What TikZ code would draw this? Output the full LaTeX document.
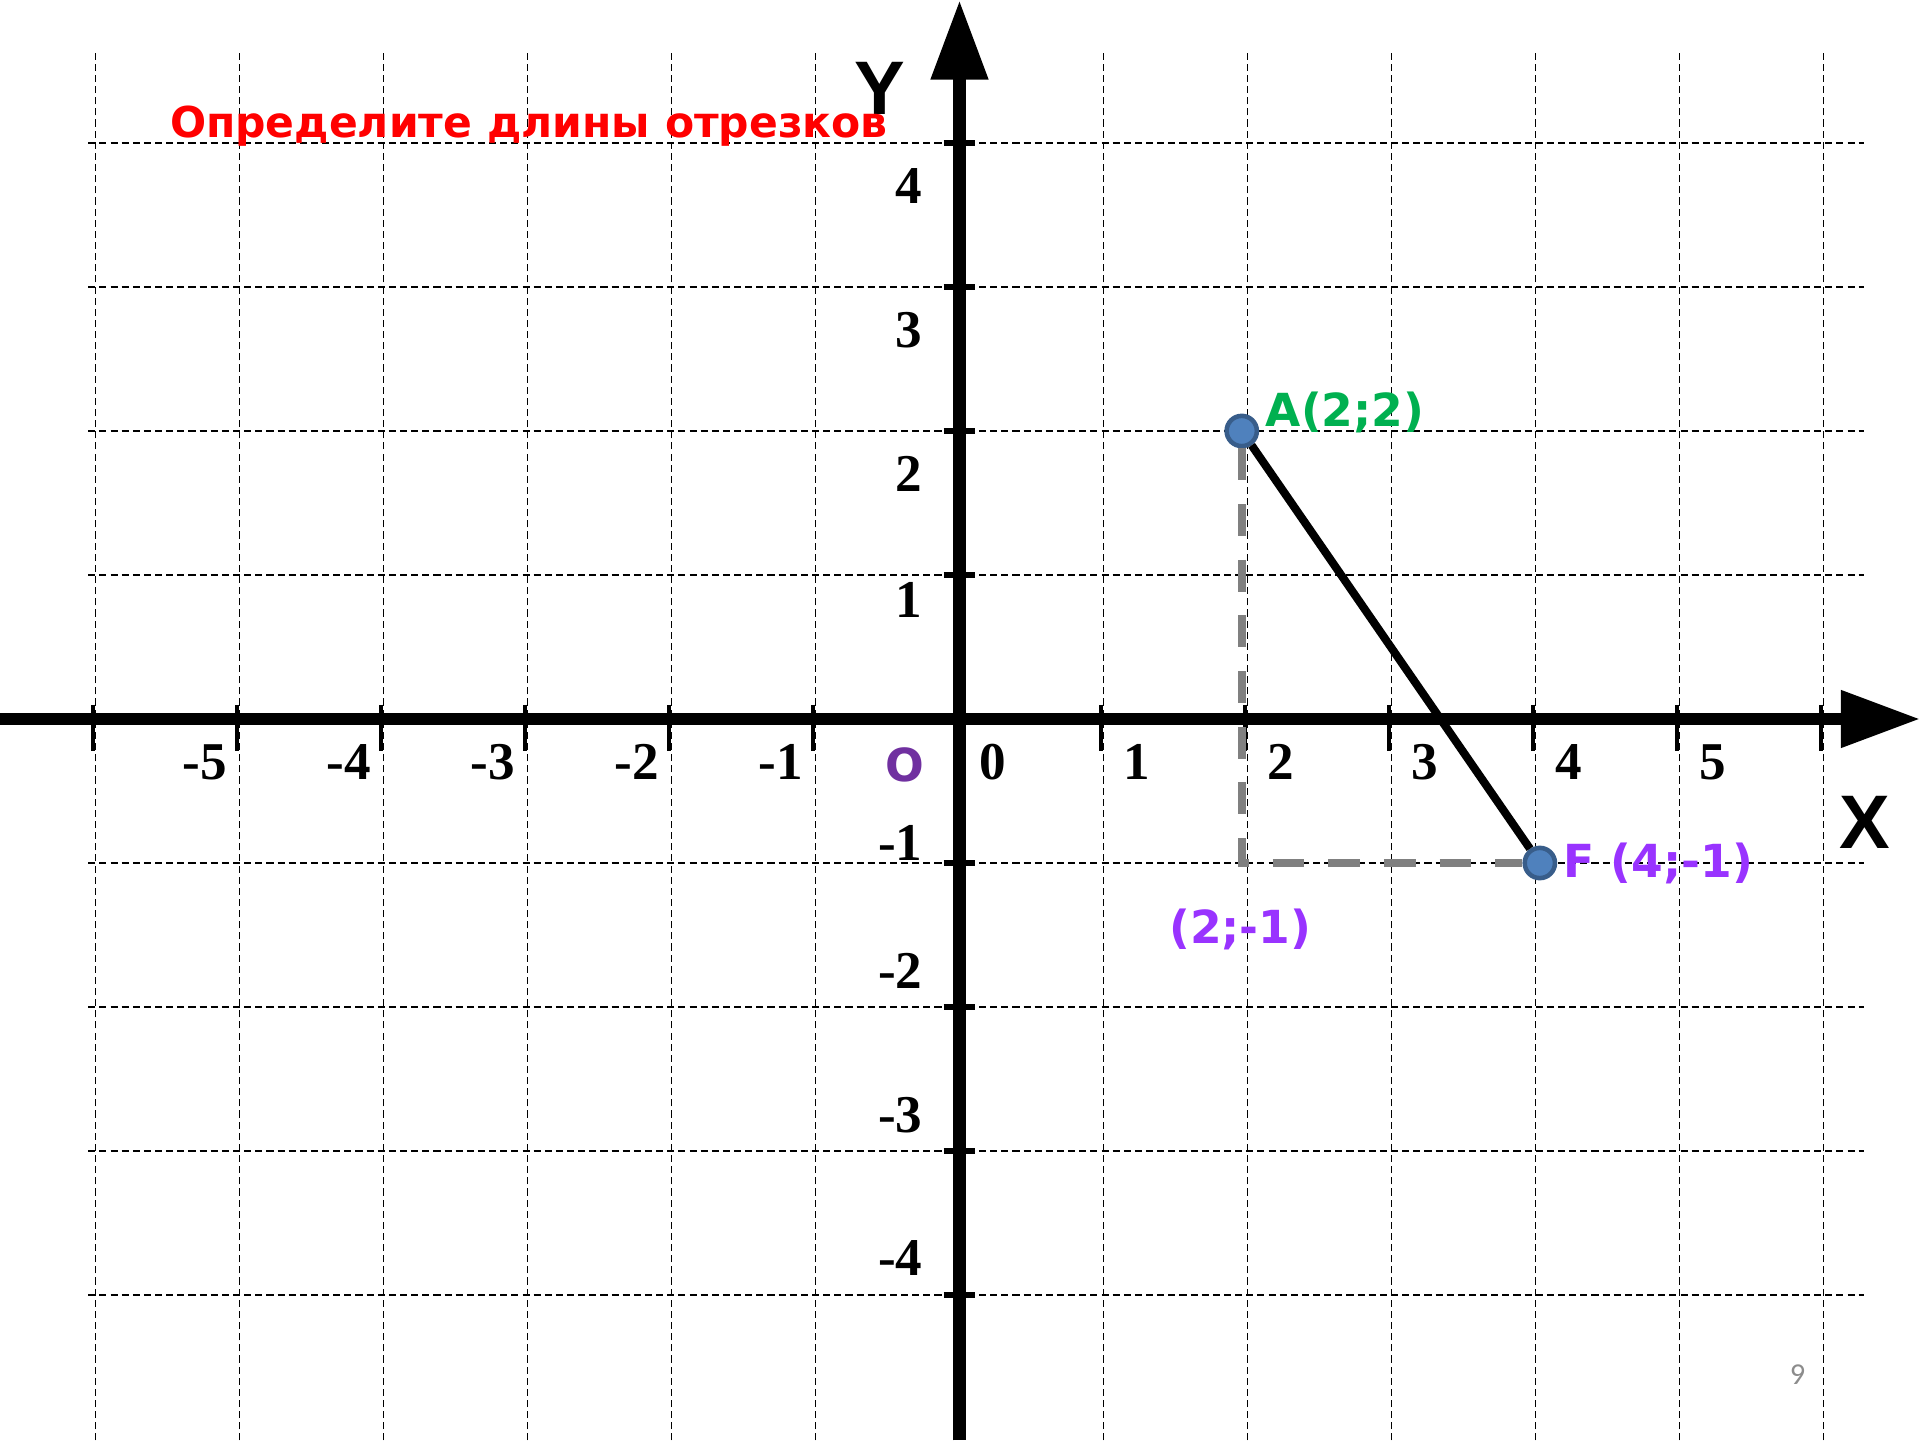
\documentclass[tikz,border=0pt]{standalone}
\usepackage{fontspec}
\setmainfont{Liberation Serif}
\newfontfamily\verdfont{DejaVu Sans}
\newfontfamily\arialfont{Liberation Sans}
\newfontfamily\calfont{Carlito}
\usetikzlibrary{arrows.meta}
\definecolor{ptred}{HTML}{FF0000}
\definecolor{ptgreen}{HTML}{00B050}
\definecolor{ptpurple}{HTML}{9933FF}
\definecolor{ptviolet}{HTML}{7030A0}
\definecolor{ptblue}{HTML}{4F81BD}
\definecolor{ptblueline}{HTML}{385D8A}
\definecolor{ptgray}{HTML}{808080}
\definecolor{ptpage}{HTML}{8C8C8C}

\begin{document}
\begin{tikzpicture}[
  gridline/.style={black, line width=0.35pt, dash pattern=on 1.4pt off 0.8pt},
  axis/.style={line width=2.4pt, -{Triangle[length=0.55cm, width=0.38cm]}},
  xtick/.style={line width=0.8pt},
  ytick/.style={line width=1.3pt},
  numlbl/.style={font=\fontsize{10.5}{12}\selectfont\bfseries, inner sep=0pt},
  axlbl/.style={font=\arialfont\fontsize{15}{18}\selectfont\bfseries, inner sep=0pt},
  ptlbl/.style={font=\verdfont\fontsize{9}{11}\selectfont\bfseries, inner sep=0pt},
  point/.style={circle, fill=ptblue, draw=ptblueline, line width=0.9pt, minimum size=0.21cm, inner sep=0pt},
  helper/.style={ptgray, line width=1.5pt, dash pattern=on 6.3pt off 4.7pt}
]
  \useasboundingbox (-6.663,-5.007) rectangle (6.670,4.993);

  % Grid
  \foreach \i in {-6,...,-1,1,2,...,6}
    \draw[gridline] (\i,-5.01) -- (\i,4.65);
  \foreach \j in {-4,...,-1,1,2,...,4}
    \draw[gridline] (-6.05,\j) -- (6.28,\j);

  % Axes
  \draw[axis] (-6.67,0) -- (6.67,0);
  \draw[axis] (0,-5.01) -- (0,4.99);
  \node[axlbl] (xname) at (6.29,-0.72) {X};
  \node[axlbl] (yname) at (-0.55,4.38) {Y};

  % Ticks
  \foreach \i in {-6,...,-1,1,2,...,6}
    \draw[xtick] (\i-0.02,0.1) -- (\i-0.02,-0.22);
  \foreach \j in {-4,...,-1,1,2,...,4}
    \draw[ytick] (-0.11,\j) -- (0.11,\j);

  % Numbers
  \foreach \i in {0,...,5}
    \node[numlbl, anchor=west] at (\i+0.13,-0.3) {\i};
  \foreach \i in {-5,...,-1}
    \node[numlbl, anchor=east] at (\i-0.08,-0.3) {\i};
  \foreach \v/\p in {4/3.70,3/2.70,2/1.70,1/0.83,-1/-0.86,-2/-1.75,-3/-2.75,-4/-3.74}
    \node[numlbl, anchor=east] at (-0.25,\p) {\v};
  \node[ptlbl, text=ptviolet] (origin) at (-0.38,-0.32) {O};

  % Title
  \node[ptlbl, font=\verdfont\fontsize{8.4}{10}\selectfont\bfseries, text=ptred] (title) at (-2.99,4.12) {Определите длины отрезков};

  % Segment AF
  \node[point] (A) at (1.96,2) {};
  \node[point] (F) at (4.03,-1) {};
  \draw[helper] (A) |- (F);
  \draw[line width=1.6pt] (A) -- (F);
  \node[ptlbl, text=ptgreen, anchor=west] (Alabel) at (2.12,2.13) {A(2;2)};
  \node[ptlbl, text=ptpurple, anchor=west] (Flabel) at (4.19,-1.0) {F (4;-1)};
  \node[ptlbl, text=ptpurple] (Clabel) at (1.95,-1.46) {(2;-1)};

  % Page number
  \node[font=\calfont\fontsize{6}{7}\selectfont, text=ptpage] (page) at (5.82,-4.55) {9};
\end{tikzpicture}
\end{document}
